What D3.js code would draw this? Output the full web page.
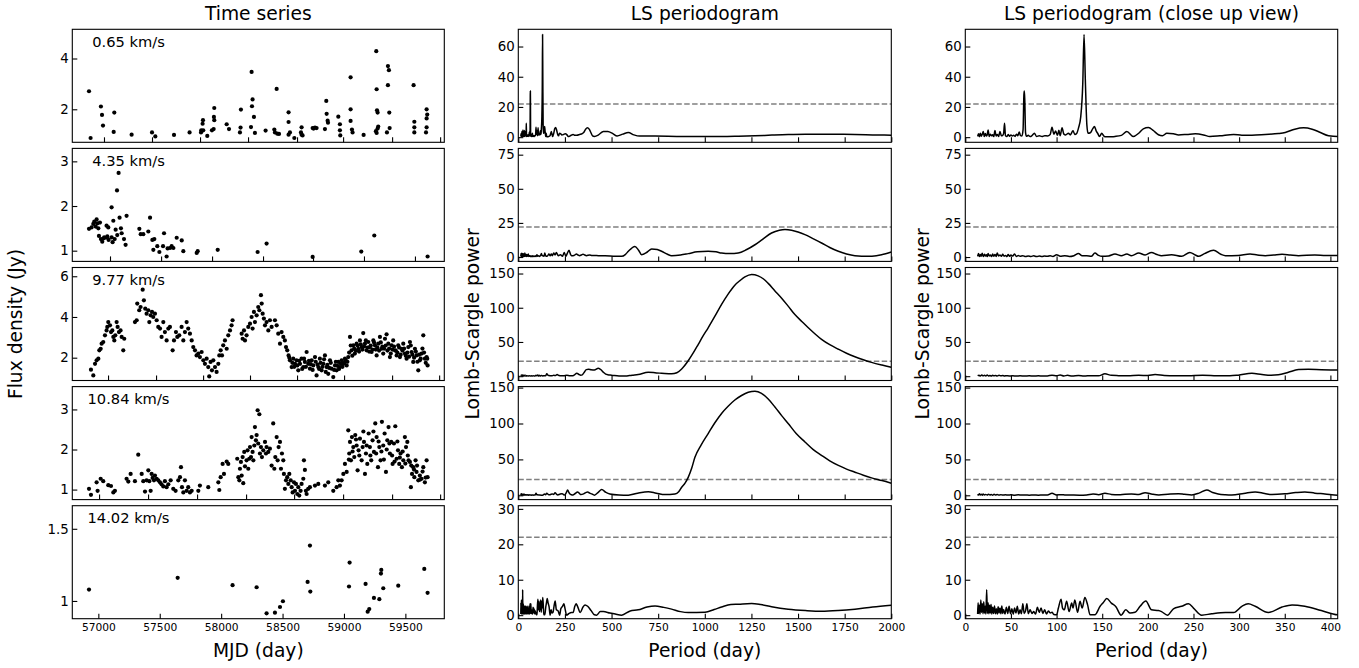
<!DOCTYPE html>
<meta charset="utf-8">
<style>
body { margin: 0; background: #fff; }
svg { font-family: "DejaVu Sans", sans-serif; }
.frame { fill: none; stroke: #000; stroke-width: 1.1; }
.tick line { stroke: #000; stroke-width: 1.1; }
.tick text { fill: #000; }
.dots circle { fill: #000; }
.ls { fill: none; stroke: #000; stroke-width: 1.5; stroke-linejoin: round; }
.thr { stroke: #808080; stroke-width: 1.5; stroke-dasharray: 5.5,2.4; }
</style>
<svg width="1359" height="668"></svg>
<script src="https://cdn.jsdelivr.net/npm/d3@7"></script>
<script>

var labels = ["0.65 km/s", "4.35 km/s", "9.77 km/s", "10.84 km/s", "14.02 km/s"];

// time series: [MJD, flux density (Jy)]
var ts1 = [[56924,2.71],[56937,0.87],[57021,2.11],[57030,1.78],[57038,1.36],[57130,1.87],[57125,1.11],[57271,1.0],[57437,1.09],[57464,0.93],[57616,0.99],[57743,1.09],[57836,1.09],[57838,1.17],[57849,1.43],[57852,1.57],[57854,1.17],[57887,0.95],[57925,1.17],[57939,1.22],[57941,1.70],[57944,2.05],[57944,1.57],[58045,1.41],[58064,1.22],[58153,1.09],[58158,1.28],[58161,1.99],[58243,1.30],[58248,3.47],[58251,2.12],[58256,2.39],[58267,1.70],[58275,1.07],[58362,1.16],[58433,1.20],[58438,1.09],[58452,2.80],[58457,1.04],[58471,1.03],[58549,1.88],[58549,1.50],[58549,1.00],[58560,1.09],[58596,0.87],[58650,1.09],[58655,1.29],[58655,1.00],[58663,0.97],[58745,1.26],[58753,1.24],[58764,1.28],[58777,1.26],[58845,1.22],[58856,2.33],[58859,1.82],[58867,1.55],[58870,1.47],[58954,1.71],[58967,1.41],[58967,1.17],[58970,0.97],[59054,3.26],[59054,2.0],[59054,1.54],[59065,1.20],[59070,1.09],[59160,0.99],[59263,4.29],[59266,2.79],[59269,1.96],[59274,1.87],[59266,1.07],[59260,1.14],[59274,1.24],[59279,1.32],[59350,1.09],[59358,2.95],[59358,3.70],[59366,3.54],[59369,1.87],[59372,1.26],[59567,2.95],[59573,1.51],[59573,1.29],[59573,1.09],[59668,1.09],[59673,2.0],[59673,1.64],[59673,1.29],[59678,1.79]];

var ts2 = [[56924,1.49],[56945,1.52],[56959,1.60],[56967,1.65],[56978,1.54],[56986,1.70],[56991,1.61],[57000,1.50],[57005,1.33],[57013,1.63],[57021,1.26],[57032,1.20],[57040,1.27],[57048,1.30],[57062,1.29],[57073,1.32],[57084,1.24],[57067,1.56],[57081,1.52],[57108,1.97],[57108,1.30],[57116,1.19],[57122,1.67],[57133,1.26],[57141,1.47],[57152,2.35],[57154,1.35],[57165,2.74],[57173,1.74],[57184,1.50],[57190,1.39],[57209,1.26],[57222,1.13],[57230,1.78],[57334,1.49],[57345,1.37],[57366,1.37],[57407,1.43],[57421,1.74],[57440,1.24],[57448,1.02],[57456,1.26],[57480,1.10],[57497,0.97],[57527,1.10],[57535,1.39],[57556,0.87],[57564,1.05],[57584,1.06],[57597,1.10],[57611,1.06],[57638,1.29],[57679,1.23],[57692,0.99],[57801,0.95],[57809,0.99],[57972,1.02],[58297,0.97],[58370,1.16],[58745,0.86],[59141,0.98],[59247,1.34],[59681,0.87]];

var ts3 = [[56940,1.41],[56959,1.13],[56973,1.70],[56986,1.87],[57000,1.95],[57008,2.36],[57019,2.44],[57027,2.69],[57040,2.77],[57054,3.10],[57067,3.34],[57073,3.51],[57081,3.75],[57095,3.59],[57103,3.26],[57114,3.34],[57122,3.02],[57130,2.85],[57138,3.10],[57149,3.75],[57157,3.51],[57168,3.26],[57181,3.34],[57190,3.02],[57203,2.36],[57211,2.93],
  [57298,3.75],[57312,3.84],[57317,4.66],[57333,4.33],[57344,4.49],[57361,5.34],[57371,4.82],[57382,4.41],[57393,4.16],[57407,4.33],[57415,3.75],[57426,4.08],[57437,4.25],[57447,4.00],[57461,4.16],[57475,3.84],[57488,3.51],[57502,3.43],[57515,3.02],[57529,3.75],[57542,3.26],[57556,2.85],[57570,3.43],[57583,3.51],[57605,2.36],[57616,2.85],[57632,3.26],[57643,3.02],[57659,3.10],[57678,3.51],[57692,2.85],[57705,3.26],[57719,3.75],[57732,3.43],[57746,3.18],[57760,2.85],[57773,2.52],[57787,2.36],[57800,2.11],[57814,2.20],[57827,2.03],[57841,2.28],[57855,1.87],[57868,1.70],[57882,1.95],[57895,1.54],[57903,1.08],[57914,1.79],[57925,1.38],[57936,1.87],[57950,1.54],[57963,1.30],[57977,1.70],[57985,2.11],[57996,2.36],[58007,2.11],[58017,2.61],[58031,2.85],[58045,2.44],[58058,3.10],[58072,3.34],[58085,3.59],[58093,3.84],
  [58167,3.18],[58175,2.93],[58186,3.34],[58194,2.85],[58207,3.10],[58221,3.51],[58235,3.67],[58248,4.00],[58256,3.43],[58267,4.25],[58275,3.75],[58289,4.08],[58302,4.49],[58311,4.33],[58324,5.07],[58330,4.66],[58338,4.16],[58348,3.92],[58357,3.59],[58370,3.75],[58384,3.34],[58397,3.84],[58411,3.51],[58438,3.84],[58452,3.59],[58465,3.18],[58479,2.69],[58492,3.26],[58506,3.02],[58519,2.85],[58528,2.52],[58538,2.36],[58549,2.11],[58560,1.87],[58574,1.54],[58587,1.95],[58601,1.70],[58614,1.87],[58628,1.38],[58642,1.70],[58655,1.95],[58669,1.54],[58682,1.79],[58696,2.28],[58709,1.70],[58723,1.46],[58737,1.87],[58750,1.62],[58764,2.03],[58777,1.13],[58791,1.54],[58804,1.95],[58818,1.38],[58832,1.70],[58845,2.11],[58859,1.54],[58872,1.21],[58886,1.87],[58899,1.46],[58913,1.05],[58927,1.62],[58940,1.38],[58954,1.79],[58967,1.54],[58981,1.87],[58995,1.70],[59008,1.95],[59022,1.62],[59035,2.03],[59049,3.02],[59062,2.36],[59076,2.61],[59089,2.20],[59103,2.69],[59117,2.44],[59130,2.85],[59144,2.52],[59157,3.21],[59171,2.69],[59184,2.36],[59198,2.77],[59211,2.52],[59225,2.28],[59239,2.85],[59252,2.61],[59266,2.11],[59279,2.69],[59293,3.02],[59306,2.44],[59320,2.20],[59334,2.93],[59347,3.15],[59361,2.69],[59374,2.03],[59388,2.61],[59401,2.85],[59415,2.36],[59429,2.11],[59442,2.61],[59456,2.03],[59469,2.44],[59483,2.69],[59496,2.20],[59510,1.95],[59524,2.52],[59537,2.77],[59551,2.28],[59564,1.79],[59578,2.44],[59591,2.11],[59605,1.38],[59618,1.87],[59632,2.20],[59646,3.10],[59659,1.95],[59673,2.03],[59681,1.62],
  [58555,2.0],[58580,1.75],[58595,1.55],[58620,1.62],[58635,1.85],[58660,1.45],[58675,1.95],[58690,1.55],[58715,1.85],[58730,1.68],[58745,1.40],[58770,1.80],[58785,1.66],[58798,1.45],[58810,1.75],[58825,1.55],[58838,1.92],[58852,1.30],[58865,1.65],[58880,1.50],[58893,1.75],[58920,1.40],[58934,1.80],[58947,1.60],[58960,1.45],[58975,1.70],[58988,1.55],[59002,1.75],[59015,1.88],[59028,1.80],[59042,2.25],[59055,2.60],[59068,2.10],[59083,2.45],[59096,2.35],[59110,2.60],[59123,2.30],[59137,2.65],[59150,2.40],[59164,2.55],[59178,2.85],[59191,2.50],[59205,2.30],[59218,2.60],[59232,2.40],[59245,2.75],[59259,2.40],[59272,2.50],[59286,2.35],[59300,2.75],[59313,2.55],[59327,2.45],[59340,2.60],[59354,2.35],[59368,2.45],[59381,2.20],[59395,2.40],[59408,2.55],[59422,2.35],[59435,2.25],[59449,2.50],[59462,2.15],[59476,2.35],[59490,2.45],[59503,2.10],[59517,2.25],[59530,2.05],[59544,2.60],[59557,2.15],[59571,2.00],[59585,2.30],[59598,1.80],[59612,2.15],[59625,1.95],[59639,2.45],[59652,2.25],[59666,1.75],[59678,1.95]];

var ts4 = [[56924,1.02],[56940,0.87],[56986,1.18],[56994,0.97],[57019,1.27],[57040,1.21],[57081,1.11],[57103,1.09],[57122,0.93],[57135,0.97],
  [57230,1.27],[57244,1.20],[57263,1.39],[57298,1.21],[57325,1.87],[57353,1.39],[57366,1.21],[57380,0.95],[57393,1.23],[57407,1.48],[57415,1.21],[57426,0.97],[57434,1.39],[57442,1.29],[57453,1.23],[57461,1.35],[57475,1.27],[57488,1.23],[57502,1.18],[57515,1.13],[57529,1.08],[57542,1.21],[57556,1.06],[57570,1.13],[57589,1.23],[57610,1.02],[57629,0.97],[57651,1.23],[57665,1.31],[57673,1.56],[57681,1.06],[57692,0.93],[57705,1.23],[57719,0.97],[57732,1.06],[57746,0.93],[57760,0.97],[57814,0.97],[57827,1.10],[57895,1.06],[57977,1.18],[57985,0.99],[57996,1.31],[58012,1.64],[58023,1.39],[58045,1.70],[58058,1.64],
  [58131,1.77],[58140,1.31],[58148,1.23],[58153,1.52],[58161,1.69],[58167,1.35],[58175,1.81],[58180,1.16],[58188,1.94],[58194,1.58],[58207,1.73],[58215,1.98],[58221,1.52],[58229,1.77],[58235,2.06],[58243,1.81],[58248,2.31],[58256,1.94],[58262,1.73],[58270,2.10],[58275,2.56],[58283,2.23],[58289,2.36],[58297,2.98],[58302,2.15],[58311,2.88],[58316,1.90],[58324,2.06],[58332,1.81],[58343,1.98],[58357,2.19],[58365,1.90],[58370,2.06],[58384,1.94],[58397,2.02],[58411,1.60],[58424,2.65],[58433,1.52],[58441,1.81],[58452,2.31],[58460,1.73],[58468,2.06],[58479,2.19],[58487,1.52],[58495,1.90],[58506,1.73],[58511,1.39],[58519,1.02],[58528,1.23],[58538,1.31],[58547,1.14],[58555,1.39],[58566,1.23],[58574,1.06],[58582,0.93],[58593,1.18],[58601,0.97],[58609,1.14],[58620,0.89],[58628,1.06],[58636,0.85],[58647,0.97],[58655,1.14],[58669,1.27],[58674,1.73],[58682,1.49],[58690,0.97],[58696,0.89],[58709,1.02],[58723,1.06],[58764,1.10],[58791,1.14],[58845,1.10],[58872,1.18],[58913,0.97],[58940,1.06],[58954,1.23],[58967,1.10],[58981,1.23],[58995,1.39],[59008,1.64],[59022,1.44],[59035,2.48],[59043,1.90],[59049,2.19],[59057,1.73],[59065,2.31],[59076,2.06],[59084,1.81],[59092,2.36],[59103,2.10],[59111,1.48],[59119,1.98],[59130,2.27],[59144,1.73],[59152,2.06],[59163,2.19],[59171,1.39],[59179,1.90],[59190,1.64],[59201,2.40],[59211,2.06],[59222,1.73],[59233,2.23],[59244,1.94],[59255,2.65],[59266,2.31],[59277,1.56],[59288,2.06],[59298,1.73],[59309,2.69],[59320,2.10],[59331,2.40],[59342,1.44],[59353,2.23],[59363,2.56],[59374,1.90],[59385,2.19],[59396,1.64],[59407,2.15],[59418,2.58],[59429,1.77],[59440,1.98],[59450,1.64],[59461,1.90],[59472,1.56],[59483,1.73],[59496,2.31],[59505,2.06],[59516,2.19],[59526,1.73],[59537,1.69],[59545,1.06],[59554,1.39],[59564,1.56],[59573,1.31],[59583,1.73],[59591,1.44],[59605,1.23],[59618,1.35],[59632,1.27],[59646,1.56],[59659,1.18],[59673,1.73],[59681,1.31],
  [59040,1.75],[59070,1.95],[59098,2.25],[59125,1.85],[59158,2.45],[59185,2.10],[59215,1.85],[59240,2.45],[59262,1.90],[59282,2.20],[59305,1.95],[59325,1.75],[59348,2.00],[59370,2.15],[59392,1.85],[59412,1.70],[59435,2.20],[59455,1.80],[59478,1.95],[59500,1.65],[59520,1.85],[59548,1.60],[59570,1.50],[59595,1.60],[59620,1.25],[59640,1.45],[59665,1.30]];

var ts5 = [[56924,1.079],[57646,1.160],[58093,1.109],[58289,1.095],[58370,0.914],[58438,0.919],[58479,0.958],[58503,0.998],[58704,1.132],[58723,1.384],[58726,1.065],[59041,1.100],[59046,1.266],[59176,1.118],[59193,0.926],[59206,0.944],[59244,1.021],[59288,1.012],[59301,1.190],[59304,1.215],[59320,1.088],[59442,1.106],[59654,1.222],[59681,1.056]];

// Lomb-Scargle periodograms: [period (day), power]
var ls1 = [[13.5,0.5],[14.5,2.2],[15.5,0.3],[16.5,2.6],[17.5,0.6],[18.5,1.8],[19.7,3.7],[20.8,0.4],[22,2.4],[23,0.8],[24,1.5],[25,4.8],[26.2,0.5],[27.5,2.0],[28.8,0.9],[30,1.6],[31.2,0.4],[32.5,4.4],[33.8,0.7],[35,1.8],[36.5,0.5],[38,3.7],[39.5,0.9],[41,1.2],[42,2.5],[43,9.2],[44,1.0],[45.5,0.4],[47,1.8],[48.5,0.6],[50,1.5],[51.5,0.8],[53,1.2],[54.5,0.5],[56,2.0],[57.5,0.9],[59,3.5],[60.5,1.0],[62,0.8],[63.3,5],[64.2,28],[64.7,30.5],[65.2,24],[66,3],[67,0.6],[69,1.2],[71,0.4],[73,1.0],[75.7,2.6],[78,0.5],[81,0.9],[84,0.4],[87,1.0],[90,0.8],[93,1.8],[95,6.6],[97,2.0],[99,4.0],[101,1.2],[102.5,4.5],[104,1.0],[106,6.2],[108,2.0],[110,1.5],[113,2.6],[115,1.5],[118,4.2],[120,1.8],[122,2.5],[124,6.0],[126.5,13.6],[128.7,35.6],[130.1,67.9],[131.5,38],[133.2,8],[134.5,2.6],[137,2.9],[139.5,5.5],[141.5,7],[143.5,4],[145,2.6],[147,0.5],[149.5,2.6],[151.5,1.0],[153,0.2],[158,0.3],[164,0.5],[171,1.2],[177,3.7],[184,0.4],[190,2.6],[195,5.5],[200.7,6.4],[206,4.4],[211.6,1.6],[216,0.9],[220.8,2.6],[228,2.2],[233.6,1.5],[242.7,1.8],[252,2.2],[261,1.5],[268,0.4],[279,0.9],[294,1.8],[303,1.3],[314,1.3],[328.6,1.8],[343,2.4],[350.5,3.1],[361,5.3],[370.6,6.2],[380,5.3],[389,3.1],[398,0.9],[408,0.5],[430,1.5],[456,3.8],[480,3.7],[505,2.5],[530,0.8],[560,2.0],[590,3.1],[620,1.5],[650,0.7],[733,0.7],[850,0.5],[1000,0.4],[1090,0.4],[1180,0.6],[1269,0.9],[1360,1.4],[1447,1.8],[1540,2.0],[1626,2.0],[1715,1.9],[1805,1.8],[1900,1.5],[2000,1.3]];

var ls2 = [[13.5,0.5],[14.5,2.5],[15.5,0.3],[16.5,1.8],[17.5,0.6],[18.5,2.8],[19.7,0.4],[21,2.0],[22,0.7],[23,1.6],[24,0.3],[25,2.6],[26.2,0.8],[27.5,1.4],[28.8,0.3],[30,2.2],[31.2,0.6],[32.5,1.8],[33.8,0.4],[35,2.9],[36.5,0.7],[38,1.5],[39.5,0.5],[41,2.0],[42.5,0.6],[44,1.2],[45.5,0.3],[47,1.8],[48.5,0.5],[50,1.4],[52,0.8],[54,2.2],[56,0.4],[58,1.1],[60,0.6],[63,1.0],[66,0.3],[69,0.8],[72,0.4],[75,0.9],[78,0.3],[81,0.7],[84,0.4],[87,0.8],[90,0.5],[93,1.0],[96,0.4],[100,1.7],[104,0.6],[109,1.0],[114,0.4],[119,1.0],[124,2.5],[128,1.0],[133,1.0],[138,0.5],[142,2.9],[146,1.2],[149.5,0.5],[157,0.8],[164,2.2],[171,1.0],[177,2.2],[182,1.0],[190,2.9],[197,1.5],[204,3.4],[210,1.8],[215,1.0],[226,1.7],[237,0.5],[246,3.4],[252,1.5],[255.5,0.5],[262,2.5],[272,4.9],[280,2.0],[285,1.0],[299,1.2],[312,2.2],[320,1.5],[328.6,1.0],[338,1.5],[347,2.0],[356,1.5],[365,1.0],[383,1.5],[395,1.2],[408,1.2],[430,1.0],[465,1.0],[520,0.5],[554,0.5],[575,2.0],[590,4.2],[625,7.8],[645,5],[661,1.7],[690,3.5],[715,5.9],[745,5.5],[768,4.2],[800,2.0],[822,1.0],[870,1.5],[911,2.5],[960,3.8],[1018,4.2],[1060,3.8],[1090,2.9],[1135,2.5],[1179,2.9],[1225,5.5],[1269,9],[1310,13],[1358,17.6],[1400,19.6],[1430,20.1],[1465,19.6],[1500,18.3],[1537,16.4],[1580,13.5],[1626,10.3],[1670,7],[1716,4.2],[1760,2.2],[1805,1.0],[1876,0.5],[1920,1.0],[1948,1.7],[2000,3.7]];

var ls3 = [[13.5,0.8],[15,1.5],[16.5,0.3],[18,1.8],[19.5,0.5],[21,1.2],[22.5,0.2],[24,1.6],[25.5,0.4],[27,1.0],[28.5,0.3],[30,1.4],[31.5,0.5],[33,1.1],[35,0.3],[37,1.3],[39,0.5],[41,0.9],[43,0.3],[45,0.8],[48,0.4],[52,0.5],[56,0.3],[60,0.6],[65,0.3],[70,0.5],[75,0.2],[80,0.6],[85,0.3],[90,0.4],[95,1.5],[100,0.6],[104,1.8],[108,0.4],[112,1.2],[117,0.4],[124,1.0],[130,0.3],[138,0.8],[146,0.5],[153,3.4],[160,1.2],[168,0.8],[178,0.5],[190,1.2],[200,1.0],[208,2.4],[218,1.0],[230,0.5],[245,0.8],[260,1.5],[275,0.8],[290,0.5],[299,1.5],[314,4.3],[325,2.5],[335,1.5],[343,2.0],[354,5.8],[365,9.6],[376,10.1],[390,9.5],[408,9.1],[429,11.5],[445,9],[456,5.8],[480,2],[500,1.5],[540,0.2],[572,0.1],[610,1.5],[643,2.5],[697,5.8],[740,4.8],[768,4.3],[822,3.4],[850,5],[876,10.6],[911,22.6],[938,34],[965,46.6],[990,58.5],[1018,70.7],[1055,88],[1090,105],[1125,120],[1161,133],[1190,140],[1215,145],[1251,148.6],[1286,146.6],[1315,142],[1340,135.6],[1375,125],[1412,114],[1448,102],[1483,90],[1520,80],[1555,70.7],[1590,62],[1626,53.8],[1670,46],[1716,39.4],[1760,33.5],[1805,28.4],[1850,24],[1894,20.2],[1950,16.2],[2000,13]];

var ls4 = [[13.5,1.5],[14.5,0.3],[15.5,2.0],[16.5,0.5],[17.5,1.5],[18.5,0.2],[19.5,1.8],[21,0.4],[22.5,1.2],[24,0.3],[25.5,1.6],[27,0.5],[28.5,1.0],[30,0.2],[31.5,1.3],[33,0.4],[35,1.0],[37,0.3],[39,0.9],[41,0.3],[44,0.8],[47,0.3],[50,0.7],[54,0.2],[58,0.6],[62,0.3],[66,0.5],[70,0.2],[75,0.5],[80,0.2],[85,0.4],[90,0.3],[95,2.8],[100,0.5],[105,0.8],[109,0.5],[115,0.3],[125,0.2],[133,0.5],[140,1.9],[146,0.8],[153,2.8],[160,1.2],[168,0.6],[175,1.5],[182,1.9],[190,1.2],[197,3.7],[205,1.5],[212,0.5],[222,1.5],[233.6,2.3],[240,1.5],[248,0.5],[256,3],[264.6,7.5],[271,4],[277,1.9],[285,0.8],[292,0.5],[305,2.5],[317.6,4.7],[328,2.5],[336,1.0],[350,2.0],[362,3.8],[372,4.7],[383,3],[394,1.9],[408,0.2],[430,4.5],[447,8],[470,4],[491,1.9],[540,0.5],[590,0.2],[640,3],[697,5.1],[740,3],[786,1.0],[840,1.9],[860,5],[876,11.2],[894,17],[911,25],[930,38],[947,53],[980,70],[1018,86],[1054,101],[1090,114],[1125,124],[1161,132.7],[1197,139],[1233,143.5],[1269,145],[1304,142],[1340,134],[1376,123],[1412,111],[1447,100],[1490,86],[1537,74.3],[1580,64],[1626,55.6],[1670,48],[1716,41.6],[1760,36.5],[1805,32.2],[1850,28],[1894,24.3],[1950,20.5],[2000,16.8]];

var ls5 = [[13.5,0.3],[14,3.5],[14.8,0.5],[15.5,2.8],[16.2,0.3],[17,4.3],[17.8,0.8],[18.6,3.2],[19.4,0.4],[20.2,3.8],[21,0.6],[21.8,2.5],[22.6,0.3],[23.4,7.2],[24.2,0.5],[25,3.5],[25.8,0.4],[26.6,2.8],[27.4,0.6],[28.2,3.0],[29,0.3],[30,2.2],[31,0.5],[32,2.6],[33,0.4],[34,1.8],[35,0.3],[36,2.4],[37,0.6],[38,2.0],[39,0.4],[40,2.6],[41,0.5],[42,1.6],[43.5,0.3],[45,2.2],[46.5,0.5],[48,2.5],[49.5,0.4],[51,1.8],[52.5,0.3],[54,2.0],[55.5,0.6],[57,2.5],[58.5,0.3],[60,1.5],[61.5,0.4],[63,3.2],[64.5,0.5],[66,1.2],[67.5,3.2],[69,0.4],[71,1.5],[73,0.5],[75,1.0],[77,0.3],[79,2.2],[81,0.8],[83,2.0],[85,0.5],[87,1.5],[89,0.3],[91,1.2],[93,0.6],[95,0.8],[97,0.2],[100,0.1],[102,2],[104.9,4.5],[106.5,2],[108.5,1.5],[111,3.9],[113.7,1.0],[116.6,3.4],[118,2],[120,4.3],[123,0.8],[125.7,3.9],[128,2],[131,5],[134,2.9],[136.7,0.1],[142,0.1],[147.7,2.5],[151,3.5],[155,4.7],[160,3.4],[165,2.4],[170.7,0],[175.8,1.5],[180.6,0.6],[186,0.8],[191.5,2.5],[197.8,4],[204,1.5],[211.6,1.3],[215,1.0],[221.5,0],[228,1.8],[237,2.5],[244.6,3.2],[250,2.0],[259,0],[270,0.4],[285,0.75],[294,0.75],[303,2.5],[310,3.2],[317.6,2.5],[332,0.75],[347,2.3],[358,2.9],[372,2.5],[390,1.3],[408,0.1],[420,0],[440,1.0],[456,1.0],[491,0.6],[520,0.3],[554,0],[600,1.2],[643,1.5],[690,2.3],[733,2.6],[780,2.2],[822,1.7],[870,1.0],[911,0.75],[1001,0.85],[1050,1.6],[1090,2.3],[1140,3.0],[1179,3.1],[1251,3.3],[1300,3.0],[1358,2.4],[1447,1.7],[1540,1.3],[1626,1.1],[1715,1.3],[1805,1.7],[1900,2.3],[2000,2.8]];

var series = [ts1, ts2, ts3, ts4, ts5];
var periodograms = [ls1, ls2, ls3, ls4, ls5];
var threshold = 22;

var fluxDomains = [[0.70,5.15],[0.76,3.29],[0.88,6.43],[0.75,3.57],[0.877,1.66]];
var powerDomains = [[-3.4,71.4],[-3.2,79.6],[-6.3,158.8],[-6,151.4],[-1,30.9]];
var fluxTicks = [[2,4],[1,2,3],[2,4,6],[1,2,3],[1,1.5]];
var powerTicks = [[0,20,40,60],[0,25,50,75],[0,50,100,150],[0,50,100,150],[0,10,20,30]];
var mjdTicks = [
  [57046,57437,57828,58219,58618,58993,59392,59783],
  [57095,57511,57926,58341,58748,59163,59578],
  [57079,57470,57853,58235,58618,59001,59392,59775],
  [57006,57405,57804,58203,58594,58993,59392,59783],
  [57000,57500,58000,58500,59000,59500]];
var periodTicks = [0,250,500,750,1000,1250,1500,1750,2000];
var closeTicks = [0,50,100,150,200,250,300,350,400];

var mjdDomain = [56788, 59817], periodDomain = [0, 2000], closeDomain = [0, 408];

var svg = d3.select("svg");
var defs = svg.append("defs");
var colX = { ts: [72.3, 444.3], ls: [518.3, 891.3], cu: [965.3, 1337.7] };
var top0 = 29.3, pitch = 119.1, ph = 113;

function styleAxis(sel, size) {
  sel.attr("font-family", "DejaVu Sans").attr("font-size", size);
  sel.select(".domain").remove();
}

function blank() { return ""; }

function panelAxes(g, x, y, xt, yt, yb, last, bottomFmt) {
  g.append("g")
      .attr("transform", "translate(0," + yb + ")")
      .call(d3.axisBottom(x).tickValues(xt).tickSize(-5).tickPadding(5)
        .tickFormat(last ? bottomFmt : blank))
      .call(styleAxis, 10.67);
  g.append("g")
      .attr("transform", "translate(" + x.range()[0] + ",0)")
      .call(d3.axisLeft(y).tickValues(yt).tickSize(-5).tickPadding(3.5)
        .tickFormat(d3.format("~g")))
      .call(styleAxis, 13.33);
  g.append("rect")
      .attr("class", "frame")
      .attr("x", x.range()[0]).attr("y", y.range()[1])
      .attr("width", x.range()[1] - x.range()[0])
      .attr("height", y.range()[0] - y.range()[1]);
}

for (var i = 0; i < 5; i++) {
  var yt = top0 + i * pitch, yb = yt + ph, last = i === 4;

  // time series
  var x = d3.scaleLinear().domain(mjdDomain).range(colX.ts);
  var y = d3.scaleLinear().domain(fluxDomains[i]).range([yb, yt]);
  var g = svg.append("g");
  g.append("g").attr("class", "dots")
    .selectAll("circle")
    .data(series[i])
    .enter().append("circle")
      .attr("cx", function(d) { return x(d[0]); })
      .attr("cy", function(d) { return y(d[1]); })
      .attr("r", 2.1);
  g.append("text")
      .attr("x", 128.5).attr("y", yt + 17.5)
      .attr("text-anchor", "middle")
      .attr("font-size", 14.67)
      .text(labels[i]);
  panelAxes(g, x, y, mjdTicks[i], fluxTicks[i], yb, last, d3.format("d"));

  // periodogram, full range and close up
  [["ls", periodDomain, periodTicks], ["cu", closeDomain, closeTicks]].forEach(function(c) {
    var xp = d3.scaleLinear().domain(c[1]).range(colX[c[0]]);
    var yp = d3.scaleLinear().domain(powerDomains[i]).range([yb, yt]);
    var id = "clip-" + c[0] + i;
    defs.append("clipPath").attr("id", id).append("rect")
        .attr("x", xp.range()[0]).attr("y", yt)
        .attr("width", xp.range()[1] - xp.range()[0]).attr("height", ph);
    var gp = svg.append("g");
    gp.append("line")
        .attr("class", "thr")
        .attr("x1", xp.range()[0]).attr("x2", xp.range()[1])
        .attr("y1", yp(threshold)).attr("y2", yp(threshold));
    gp.append("path")
        .datum(periodograms[i])
        .attr("class", "ls")
        .attr("clip-path", "url(#" + id + ")")
        .attr("d", d3.line()
          .curve(d3.curveMonotoneX)
          .x(function(d) { return xp(d[0]); })
          .y(function(d) { return yp(d[1]); }));
    panelAxes(gp, xp, yp, c[2], powerTicks[i], yb, last, d3.format("d"));
  });
}

// titles and axis labels
var titles = [["Time series", 258.3], ["LS periodogram", 704.8], ["LS periodogram (close up view)", 1151.5]];
titles.forEach(function(t) {
  svg.append("text").attr("x", t[1]).attr("y", 19.5)
    .attr("text-anchor", "middle").attr("font-size", 18.67).text(t[0]);
});
var xlabels = [["MJD (day)", 258.3], ["Period (day)", 704.8], ["Period (day)", 1151.5]];
xlabels.forEach(function(t) {
  svg.append("text").attr("x", t[1]).attr("y", 657)
    .attr("text-anchor", "middle").attr("font-size", 18.67).text(t[0]);
});
var ylabels = [["Flux density (Jy)", 22], ["Lomb-Scargle power", 478.6], ["Lomb-Scargle power", 928.6]];
ylabels.forEach(function(t) {
  svg.append("text")
    .attr("transform", "translate(" + t[1] + ",324) rotate(-90)")
    .attr("text-anchor", "middle").attr("font-size", 18.67).text(t[0]);
});

</script>
